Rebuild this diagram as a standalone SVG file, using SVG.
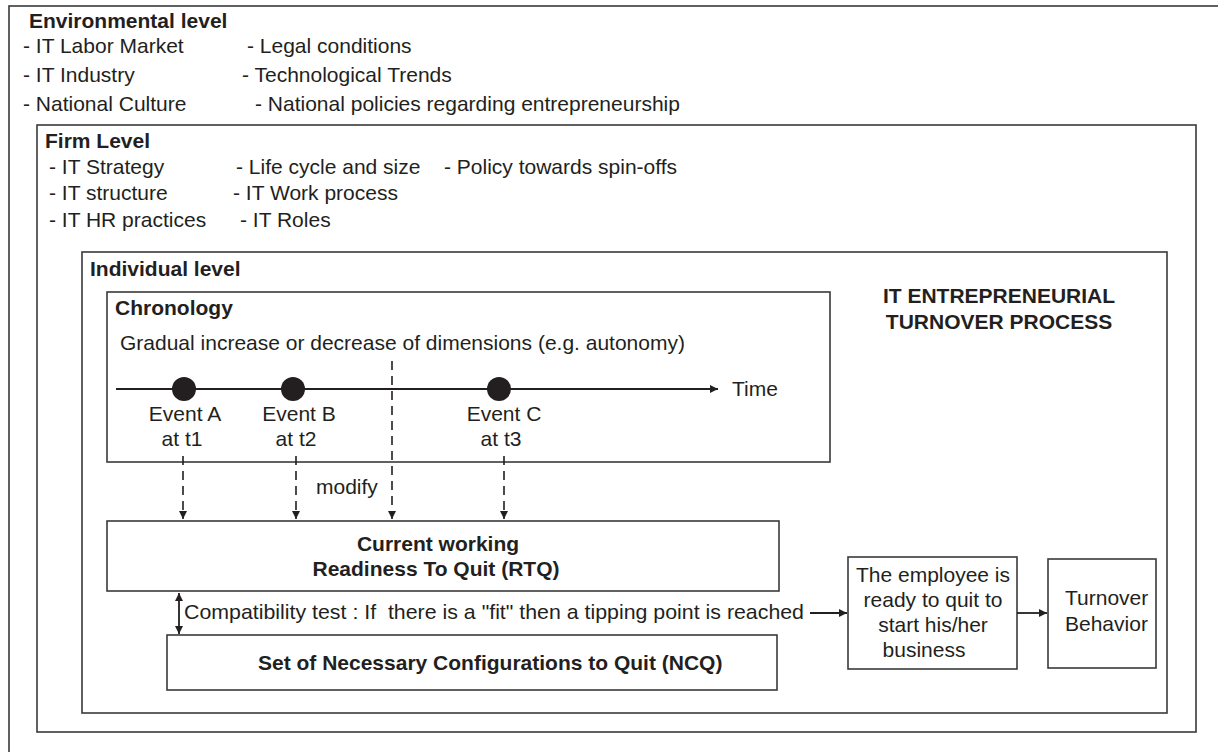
<svg xmlns="http://www.w3.org/2000/svg" width="1218" height="752" viewBox="0 0 1218 752">
<style>
text{font-family:"Liberation Sans",Arial,Helvetica,sans-serif;font-size:21px;fill:#231f20}
.b{font-weight:bold}
.m{text-anchor:middle}
.pre{white-space:pre}
.box{fill:none;stroke:#3a3a3a;stroke-width:1.6}
.dash{fill:none;stroke:#231f20;stroke-width:1.6;stroke-dasharray:9 6}
.ln{fill:none;stroke:#231f20;stroke-width:1.8}
</style>
<defs>
<marker id="ah" viewBox="0 0 10 10" refX="10" refY="5" markerWidth="10" markerHeight="8" markerUnits="userSpaceOnUse" orient="auto-start-reverse">
<path d="M0,0 L10,5 L0,10 z" fill="#231f20"/>
</marker>
</defs>
<rect width="1218" height="752" fill="#fff"/>
<g id="environmental-level">
<rect class="box" x="9" y="6" width="1230" height="770"/>
<text class="b" x="29" y="28">Environmental level</text>
<text x="23" y="53">- IT Labor Market</text>
<text x="247" y="53">- Legal conditions</text>
<text x="23" y="82">- IT Industry</text>
<text x="242" y="82">- Technological Trends</text>
<text x="23" y="111">- National Culture</text>
<text x="255" y="111">- National policies regarding entrepreneurship</text>
</g>
<g id="firm-level">
<rect class="box" x="37" y="125" width="1159" height="607"/>
<text class="b" x="45" y="148">Firm Level</text>
<text x="49" y="174">- IT Strategy</text>
<text x="236" y="174">- Life cycle and size</text>
<text x="444" y="174">- Policy towards spin-offs</text>
<text x="49" y="200">- IT structure</text>
<text x="233" y="200">- IT Work process</text>
<text x="49" y="227">- IT HR practices</text>
<text x="240" y="227">- IT Roles</text>
</g>
<g id="individual-level">
<rect class="box" x="82" y="252" width="1085" height="461"/>
<text class="b" x="90" y="276">Individual level</text>
<text class="b m" x="999" y="303">IT ENTREPRENEURIAL</text>
<text class="b m" x="999" y="329">TURNOVER PROCESS</text>
</g>
<g id="chronology">
<rect class="box" x="107" y="292" width="723" height="170"/>
<text class="b" x="115" y="315">Chronology</text>
<text x="120" y="350">Gradual increase or decrease of dimensions (e.g. autonomy)</text>
<text x="732" y="396">Time</text>
<circle cx="184" cy="389" r="12" fill="#231f20"/>
<circle cx="293" cy="389" r="12" fill="#231f20"/>
<circle cx="499" cy="389" r="12" fill="#231f20"/>
<text class="m" x="185" y="421">Event A</text>
<text class="m" x="182" y="446">at t1</text>
<text class="m" x="299" y="421">Event B</text>
<text class="m" x="296" y="446">at t2</text>
<text class="m" x="504" y="421">Event C</text>
<text class="m" x="501" y="446">at t3</text>
</g>
<g id="rtq">
<rect class="box" x="107" y="521" width="672" height="70"/>
<text class="b m" x="438" y="551">Current working</text>
<text class="b m" x="436" y="576">Readiness To Quit (RTQ)</text>
</g>
<g id="ncq">
<rect class="box" x="167" y="635" width="610" height="55"/>
<text class="b" x="258" y="670">Set of Necessary Configurations to Quit (NCQ)</text>
</g>
<g id="employee-ready">
<rect class="box" x="848" y="557" width="169" height="112"/>
<text class="m" x="933" y="582">The employee is</text>
<text class="m" x="933" y="607">ready to quit to</text>
<text class="m" x="933" y="632">start his/her</text>
<text class="m" x="924" y="657">business</text>
</g>
<g id="turnover-behavior">
<rect class="box" x="1048" y="559" width="108" height="109"/>
<text x="1065" y="605">Turnover</text>
<text x="1065" y="631">Behavior</text>
</g>
<g id="connectors">
<line class="ln" x1="116" y1="389" x2="718" y2="389" marker-end="url(#ah)"/>
<line class="dash" x1="183" y1="456" x2="183" y2="519" marker-end="url(#ah)"/>
<line class="dash" x1="296" y1="456" x2="296" y2="519" marker-end="url(#ah)"/>
<line class="dash" x1="392" y1="361" x2="392" y2="519" marker-end="url(#ah)"/>
<line class="dash" x1="504" y1="456" x2="504" y2="519" marker-end="url(#ah)"/>
<text x="316" y="494">modify</text>
<line class="ln" x1="179" y1="593" x2="179" y2="634" marker-start="url(#ah)" marker-end="url(#ah)"/>
<text class="pre" x="184" y="619" textLength="620" lengthAdjust="spacingAndGlyphs">Compatibility test : If  there is a "fit" then a tipping point is reached</text>
<line class="ln" x1="810" y1="613" x2="847" y2="613" marker-end="url(#ah)"/>
<line class="ln" x1="1017" y1="613" x2="1047" y2="613" marker-end="url(#ah)"/>
</g>
</svg>
